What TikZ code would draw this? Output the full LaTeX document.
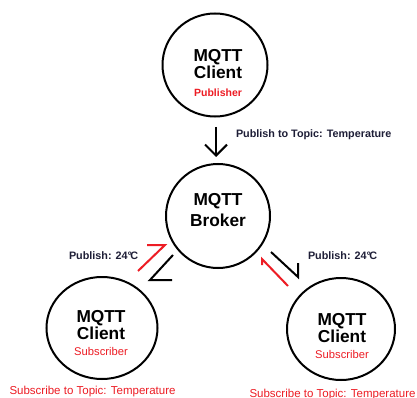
\documentclass[tikz,border=0pt]{standalone}
\usepackage{fontspec}
\setmainfont{Liberation Sans}
\usetikzlibrary{arrows.meta,shapes.geometric}
\definecolor{paintred}{RGB}{237,28,36}
\definecolor{inkblue}{RGB}{30,30,55}

\begin{document}
\begin{tikzpicture}[x=1pt, y=-1pt, line width=2pt,
  blob/.style={ellipse, draw, inner sep=0pt},
  big/.style={anchor=base, inner sep=0pt, font=\fontsize{17.3}{17}\selectfont\bfseries},
  role/.style={anchor=base, inner sep=0pt, text=paintred, font=\fontsize{11.2}{11}\selectfont},
  tag/.style={anchor=base west, inner sep=0pt, text=inkblue, font=\fontsize{10.8}{11}\selectfont\bfseries}]
\useasboundingbox[fill=white] (0,0) rectangle (417,398);
\foreach \n/\x/\y/\w/\h in {pub/215/65/105/103, broker/218/216/104/104,
    subl/102/328/111/102, subr/341/329/108/102}{
  \node[blob, minimum width=\w pt, minimum height=\h pt] (\n) at (\x,\y) {};
}
\node[big] (pub-a) at (218,62) {MQTT};
\node[big] (pub-b) at (218,79) {Client};
\node[role, font=\fontsize{10.5}{11}\selectfont\bfseries] (pub-c) at (218,97) {Publisher};
\node[big] (broker-a) at (218,205) {MQTT};
\node[big] (broker-b) at (218,226) {Broker};
\foreach \n/\x/\y in {subl/101/322, subr/342/325}{
  \node[big] (\n-a) at (\x,\y) {MQTT};
  \node[big] (\n-b) at (\x,\y+17) {Client};
  \node[role] (\n-c) at (\x,\y+33) {Subscriber};
}
\node[role, font=\fontsize{11.5}{12}\selectfont] (subl-t) at (92.5,394) {Subscribe to Topic: Temperature};
\node[role, font=\fontsize{11.5}{12}\selectfont] (subr-t) at (332.5,397) {Subscribe to Topic: Temperature};
\node[tag] (pub-l) at (235,138) {Publish to Topic: Temperature};
\node[tag] (subl-l) at (68,259) {Publish: 24°\kern-1.5ptC};
\node[tag] (subr-l) at (307,259) {Publish: 24°\kern-1.5ptC};
\coordinate (down-a) at (216,127);
\coordinate (down-b) at (216,157);
\draw[-{Straight Barb[length=11pt, width=22pt]}] (down-a) -- (down-b);
\foreach \i/\c/\ax/\ay/\bx/\by/\cx/\cy in {1/black/173/255/150/280/172/280,
    2/paintred/138/271/165/245/147/245,
    3/black/271/252/298/277/298/263,
    4/paintred/288/286/262/259/262/265}{
  \coordinate (h\i-a) at (\ax,\ay);
  \coordinate (h\i-b) at (\bx,\by);
  \coordinate (h\i-c) at (\cx,\cy);
  \draw[\c] (h\i-a) -- (h\i-b) -- (h\i-c);
}
\end{tikzpicture}
\end{document}
